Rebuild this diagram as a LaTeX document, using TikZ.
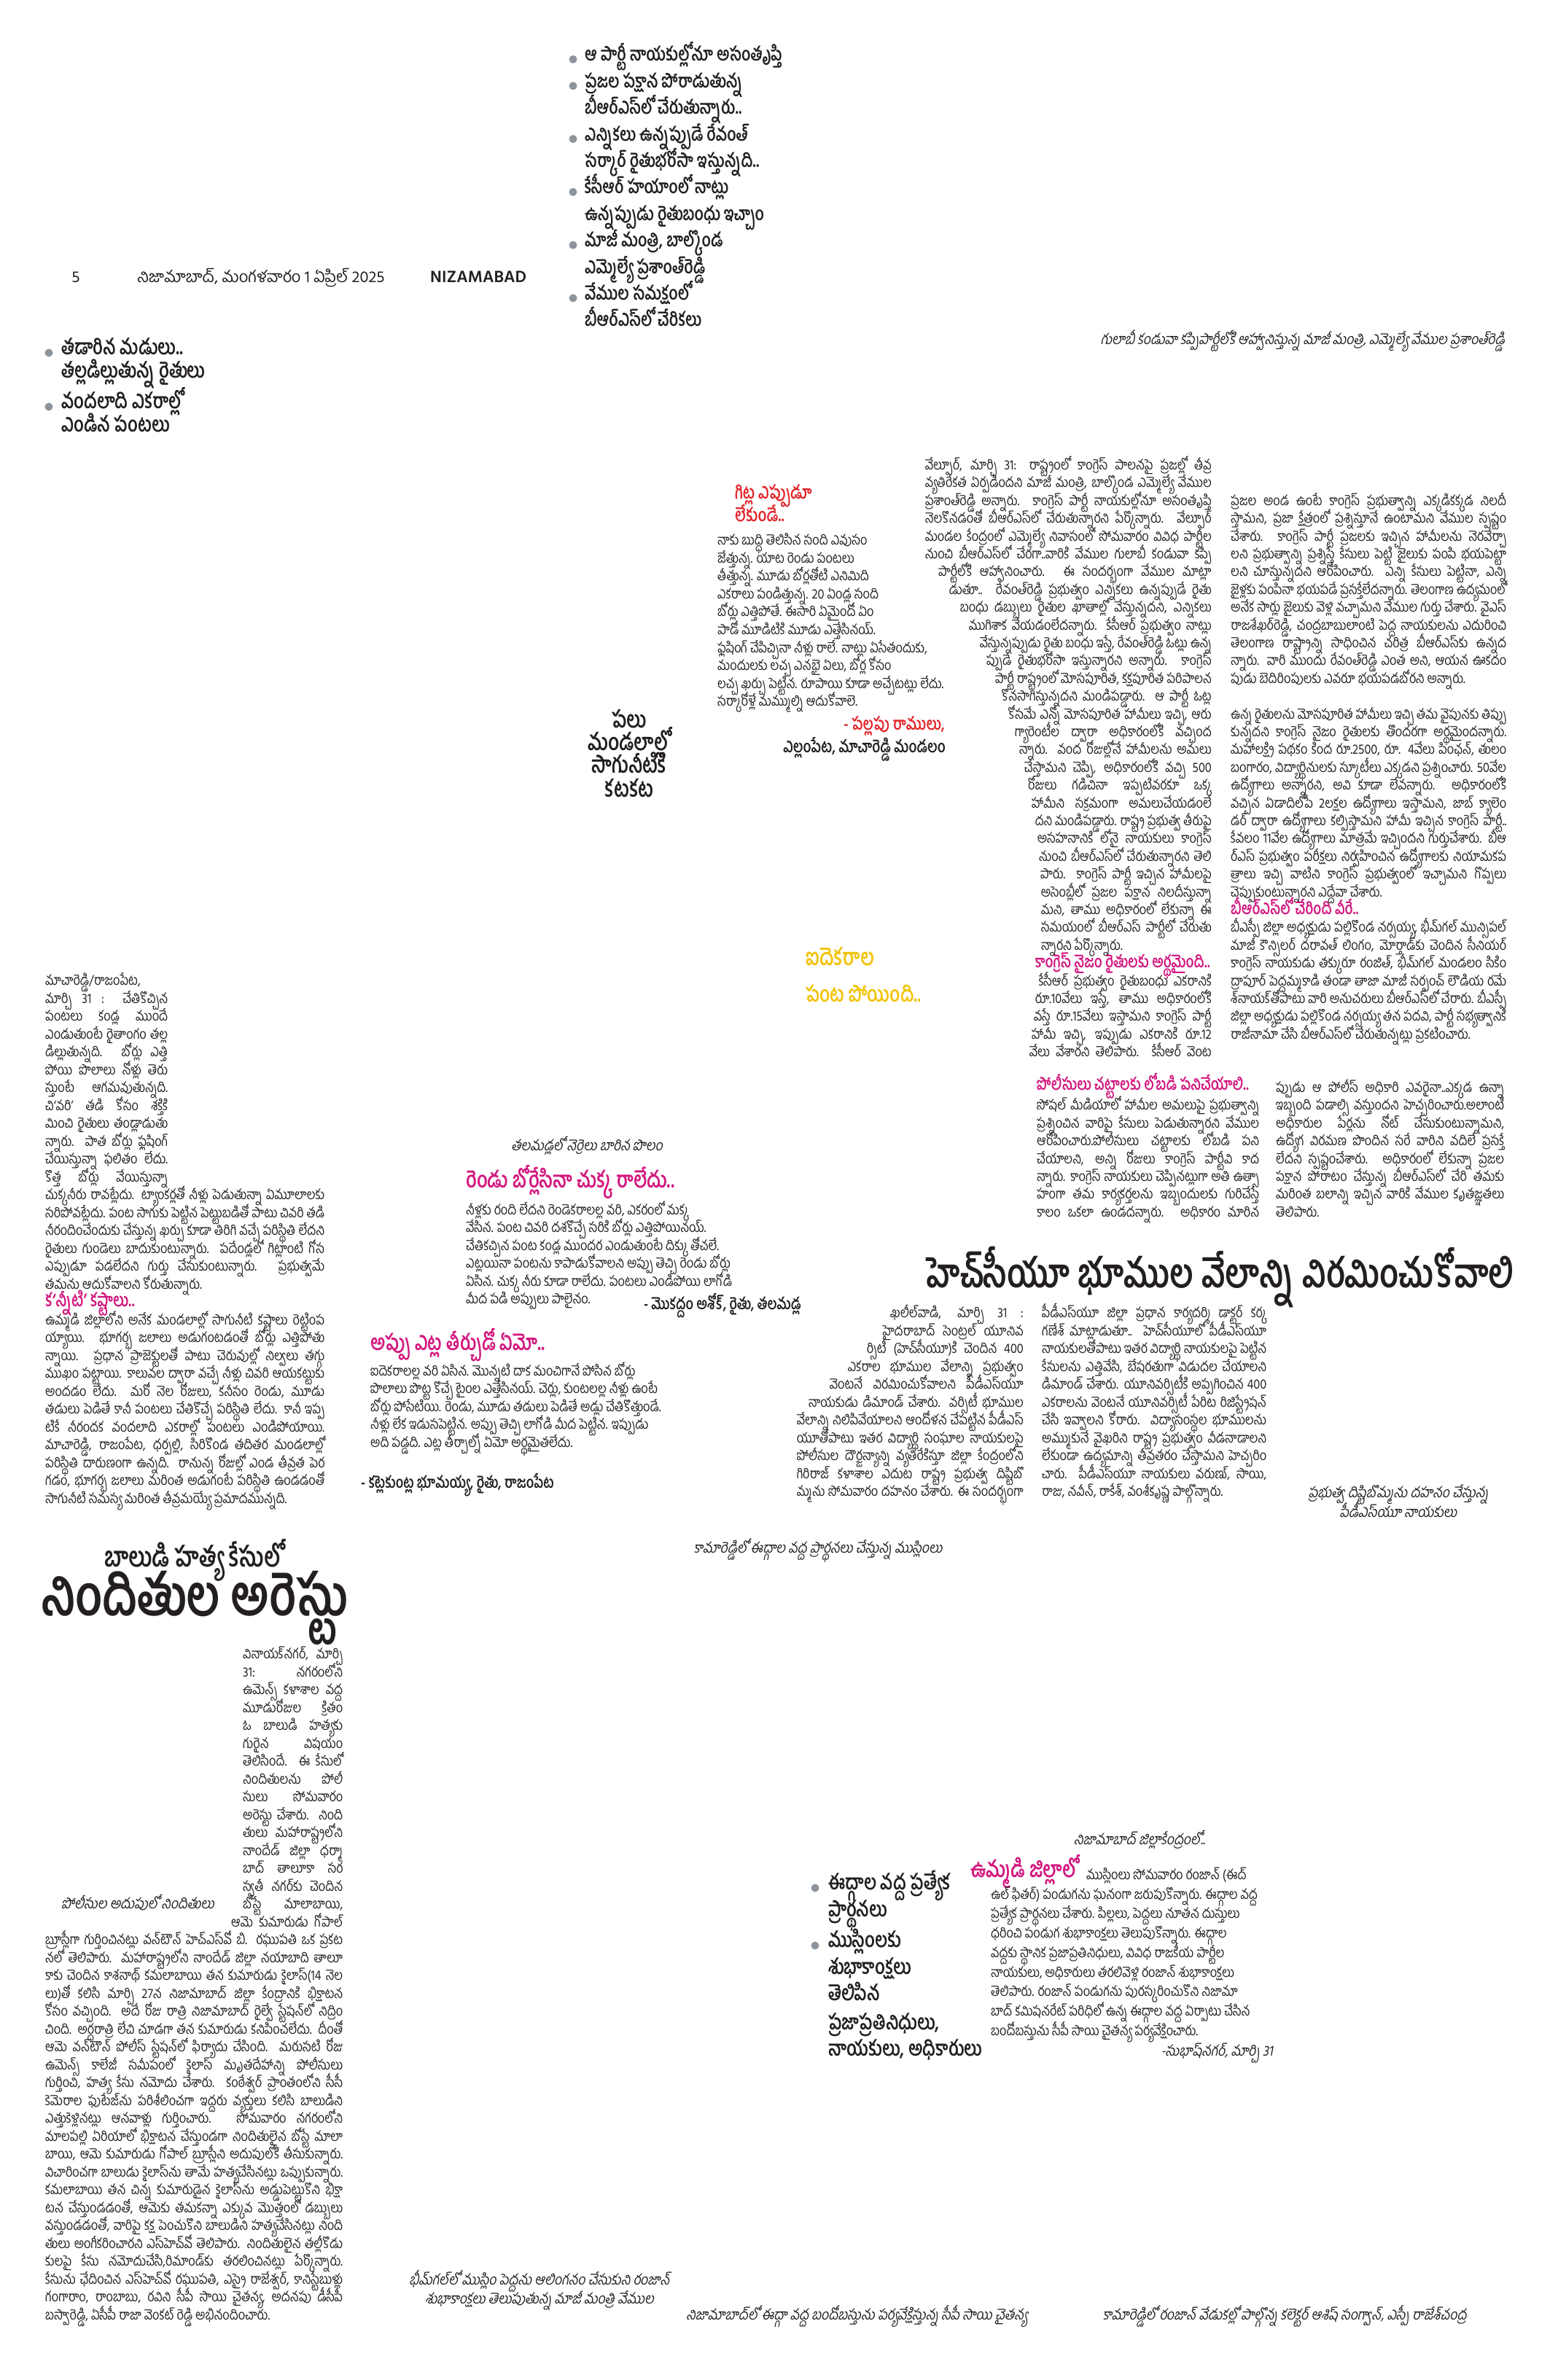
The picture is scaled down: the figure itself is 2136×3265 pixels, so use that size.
\documentclass[tikz,border=0pt]{standalone}
\usepackage{fontspec}
\usepackage{graphicx}
\setmainfont{Hind Guntur}[Script=Telugu]
\newfontfamily\bodyfont{Hind Guntur}[Script=Telugu,FakeStretch=0.86]
\newfontfamily\hdfont{Hind Guntur}[Script=Telugu,FakeStretch=0.78]
\newfontfamily\capfont{Hind Guntur}[Script=Telugu,FakeSlant=0.2,FakeStretch=0.88]
\definecolor{ink}{HTML}{231F20}
\definecolor{redhd}{HTML}{E3262B}
\definecolor{maghd}{HTML}{D3187F}
\definecolor{yelhd}{HTML}{F2C40F}
\definecolor{dotgray}{HTML}{8C949C}
% justified line of a given width, squeezed when too long
\newsavebox\linebox
\newcommand\jbox[2]{\sbox\linebox{#2}%
  \ifdim\wd\linebox>#1\relax\resizebox{#1}{\height}{\usebox\linebox}%
  \else\makebox[#1][s]{#2}\fi}

\begin{document}
\begin{tikzpicture}[x=1pt,y=-1pt,
  txt/.style={inner sep=0pt,anchor=mid west,text=ink},
  body/.style={txt,font=\bodyfont\fontsize{19}{24}\selectfont},
  capt/.style={txt,anchor=mid,font=\capfont\fontsize{20}{24}\selectfont},
  bul/.style={txt,font=\hdfont\bfseries\fontsize{26}{30}\selectfont},
  bdot/.style={circle,fill=dotgray,inner sep=0pt,minimum size=11pt},
  hd/.style={txt,font=\hdfont\bfseries\fontsize{23}{28}\selectfont,text=maghd}]
\useasboundingbox (0,0) rectangle (2136,3265);

% top bullets
\foreach \t [count=\i] in {{ఆ పార్టీ నాయకుల్లోనూ అసంతృప్తి},{ప్రజల పక్షాన పోరాడుతున్న},{బీఆర్ఎస్‌లో చేరుతున్నారు..},
  {ఎన్నికలు ఉన్నప్పుడే రేవంత్},{సర్కార్ రైతుభరోసా ఇస్తున్నది..},{కేసీఆర్ హయాంలో నాట్లు},{ఉన్నప్పుడు రైతుబంధు ఇచ్చాం},
  {మాజీ మంత్రి, బాల్కొండ},{ఎమ్మెల్యే ప్రశాంత్‌రెడ్డి},{వేముల సమక్షంలో},{బీఆర్ఎస్‌లో చేరికలు}}
  \node[bul] (top-\i) at (802,45+36.4*\i) {\t};
\foreach \i in {1,2,4,6,8,10}
  \node[bdot] (topdot-\i) at (786,45+36.4*\i) {};

% page header
\node[txt,anchor=mid,font=\fontsize{22}{26}\selectfont] (pageno) at (104,385) {5};
\node[txt,font=\fontsize{22}{26}\selectfont] (date) at (188,385) {నిజామాబాద్, మంగళవారం 1 ఏప్రిల్ 2025};
\node[txt,font=\bfseries\fontsize{23}{28}\selectfont] (edition) at (590,385) {NIZAMABAD};

% left bullets
\node[bdot] (ldot-1) at (67,484) {};
\node[bul,font=\hdfont\bfseries\fontsize{29}{34}\selectfont] (left-1) at (84,484) {తడారిన మడులు..};
\node[bul,font=\hdfont\bfseries\fontsize{29}{34}\selectfont] (left-2) at (84,516) {తల్లడిల్లుతున్న రైతులు};
\node[bdot] (ldot-3) at (67,558) {};
\node[bul,font=\hdfont\bfseries\fontsize{29}{34}\selectfont] (left-3) at (84,558) {వందలాది ఎకరాల్లో};
\node[bul,font=\hdfont\bfseries\fontsize{29}{34}\selectfont] (left-4) at (84,590) {ఎండిన పంటలు};

\node[capt,anchor=mid east] (capvemula) at (2064,470) {గులాబీ కండువా కప్పిపార్టీలోకి ఆహ్వానిస్తున్న మాజీ మంత్రి, ఎమ్మెల్యే వేముల ప్రశాంత్‌రెడ్డి};

% farmer quote 1
\node[hd,text=redhd,font=\hdfont\bfseries\fontsize{25}{30}\selectfont] (gitla-1) at (1008,682) {గిట్ల ఎప్పుడూ};
\node[hd,text=redhd,font=\hdfont\bfseries\fontsize{25}{30}\selectfont] (gitla-2) at (1008,713) {లేకుండే..};
\foreach \t [count=\i] in {{నాకు బుద్ధి తెలిసిన సంది ఎవుసం},{జేత్తున్న. యాట రెండు పంటలు},{తీత్తున్న. మూడు బోర్లతోటి ఎనిమిది},
  {ఎకరాలు పండిత్తున్న. 20 ఏండ్ల సంది},{బోర్లు ఎత్తిపోతే. ఈసారి ఏమైందో ఏం},{పాడో మూడిటికి మూడు ఎత్తేసినయ్.},
  {ఫ్లషింగ్ చేపిచ్చినా నీళ్లు రాలే. నాట్లు ఏసేతందుకు,},{మందులకు లచ్చ ఎనభై ఏలు, బోర్ల కోసం},
  {లచ్చ ఖర్చు పెట్టిన. రూపాయి కూడా అచ్చేటట్లు లేదు.},{సర్కారోళ్లే మమ్ముల్ని ఆదుకోవాలె.}}
  \node[body] (gq-\i) at (984,720.4+24.6*\i) {\t};
\node[hd,text=redhd,anchor=mid east,font=\hdfont\bfseries\fontsize{24}{28}\selectfont] (gname) at (1296,999) {- పల్లపు రాములు,};
\node[txt,anchor=mid east,font=\hdfont\bfseries\fontsize{23}{26}\selectfont] (gplace) at (1297,1030) {ఎల్లంపేట, మాచారెడ్డి మండలం};

\foreach \t/\yy [count=\i] in {పలు/996,మండలాల్లో/1027,సాగునీటికి/1058,కటకట/1091}
  \node[txt,anchor=mid,font=\hdfont\bfseries\fontsize{32}{36}\selectfont] (palu-\i) at (863,\yy) {\t};

% column A (Velpur story)
\foreach \w/\t [count=\i] in {393/{వేల్పూర్, మార్చి 31: రాష్ట్రంలో కాంగ్రెస్ పాలనపై ప్రజల్లో తీవ్ర},
  393/{వ్యతిరేకత ఏర్పడిందని మాజీ మంత్రి, బాల్కొండ ఎమ్మెల్యే వేముల},
  393/{ప్రశాంత్‌రెడ్డి అన్నారు. కాంగ్రెస్ పార్టీ నాయకుల్లోనూ అసంతృప్తి},
  393/{నెలకొనడంతో బీఆర్ఎస్‌లో చేరుతున్నారని పేర్కొన్నారు. వేల్పూర్},
  393/{మండల కేంద్రంలో ఎమ్మెల్యే నివాసంలో సోమవారం వివిధ పార్టీల},
  393/{నుంచి బీఆర్ఎస్‌లో చేరగా..వారికి వేముల గులాబీ కండువా కప్పి},
  375/{పార్టీలోకి ఆహ్వానించారు. ఈ సందర్భంగా వేముల మాట్లా},
  360/{డుతూ.. రేవంత్‌రెడ్డి ప్రభుత్వం ఎన్నికలు ఉన్నప్పుడే రైతు},
  345/{బంధు డబ్బులు రైతుల ఖాతాల్లో వేస్తున్నదని, ఎన్నికలు},
  333/{ముగిశాక వేయడంలేదన్నారు. కేసీఆర్ ప్రభుత్వం నాట్లు},
  318/{వేస్తున్నప్పుడు రైతు బంధు ఇస్తే, రేవంత్‌రెడ్డి ఓట్లు ఉన్న},
  309/{ప్పుడే రైతుభరోసా ఇస్తున్నారని అన్నారు. కాంగ్రెస్},
  297/{పార్టీ రాష్ట్రంలో మోసపూరిత, కక్షపూరిత పరిపాలన},
  288/{కొనసాగిస్తున్నదని మండిపడ్డారు. ఆ పార్టీ ఓట్ల},
  279/{కోసమే ఎన్నో మోసపూరిత హామీలు ఇచ్చి, ఆరు},
  270/{గ్యారెంటీల ద్వారా అధికారంలోకి వచ్చింద},
  264/{న్నారు. వంద రోజుల్లోనే హామీలను అమలు},
  257/{చేస్తామని చెప్పి, అధికారంలోకి వచ్చి 500},
  252/{రోజులు గడిచినా ఇప్పటివరకూ ఒక్క},
  247/{హామీని సక్రమంగా అమలుచేయడంలే},
  242/{దని మండిపడ్డారు. రాష్ట్ర ప్రభుత్వ తీరుపై},
  239/{అసహనానికి లోనై నాయకులు కాంగ్రెస్},
  237/{నుంచి బీఆర్ఎస్‌లో చేరుతున్నారని తెలి},
  235/{పారు. కాంగ్రెస్ పార్టీ ఇచ్చిన హామీలపై},
  234/{అసెంబ్లీలో ప్రజల పక్షాన నిలదీస్తున్నా},
  234/{మని, తాము అధికారంలో లేకున్నా ఈ},
  234/{సమయంలో బీఆర్ఎస్ పార్టీలో చేరుతు},
  234/{న్నారని పేర్కొన్నారు.\hfill}}
  \node[body,anchor=mid east] (colA-\i) at (1662,617.6+24.4*\i) {\jbox{\w pt}{\t}};
\node[hd,anchor=mid east] (naijam) at (1660,1325) {కాంగ్రెస్ నైజం రైతులకు అర్థమైంది..};
\foreach \w/\t [count=\i from 30] in {237/{కేసీఆర్ ప్రభుత్వం రైతుబంధు ఎకరానికి},242/{రూ.10వేలు ఇస్తే, తాము అధికారంలోకి},
  244/{వస్తే రూ.15వేలు ఇస్తామని కాంగ్రెస్ పార్టీ},247/{హామీ ఇచ్చి, ఇప్పుడు ఎకరానికి రూ.12},250/{వేలు వేశారని తెలిపారు. కేసీఆర్ వెంట}}
  \node[body,anchor=mid east] (colA-\i) at (1662,617.6+24.4*\i) {\jbox{\w pt}{\t}};

% column B
\foreach \t [count=\i from 3] in {{ప్రజల అండ ఉంటే కాంగ్రెస్ ప్రభుత్వాన్ని ఎక్కడికక్కడ నిలదీ},
  {స్తామని, ప్రజా క్షేత్రంలో ప్రశ్నిస్తూనే ఉంటామని వేముల స్పష్టం},
  {చేశారు. కాంగ్రెస్ పార్టీ ప్రజలకు ఇచ్చిన హామీలను నెరవేర్చా},
  {లని ప్రభుత్వాన్ని ప్రశ్నిస్తే కేసులు పెట్టి జైలుకు పంపి భయపెట్టా},
  {లని చూస్తున్నదని ఆరోపించారు. ఎన్ని కేసులు పెట్టినా, ఎన్ని},
  {జైళ్లకు పంపినా భయపడే ప్రసక్తేలేదన్నారు. తెలంగాణ ఉద్యమంలో},
  {అనేక సార్లు జైలుకు వెళ్లి వచ్చామని వేముల గుర్తు చేశారు. వైఎస్},
  {రాజశేఖర్‌రెడ్డి, చంద్రబాబులాంటి పెద్ద నాయకులను ఎదురించి},
  {తెలంగాణ రాష్ట్రాన్ని సాధించిన చరిత్ర బీఆర్ఎస్‌కు ఉన్నద},
  {న్నారు. వారి ముందు రేవంత్‌రెడ్డి ఎంత అని, ఆయన ఊకదం},
  {పుడు బెదిరింపులకు ఎవరూ భయపడబోరని అన్నారు.\hfill}}
  \node[body] (colB-\i) at (1688,617.6+24.4*\i) {\jbox{378pt}{\t}};
\foreach \t [count=\i from 15] in {{ఉన్న రైతులను మోసపూరిత హామీలు ఇచ్చి తమ వైపునకు తిప్పు},
  {కున్నదని కాంగ్రెస్ నైజం రైతులకు తొందరగా అర్థమైందన్నారు.},
  {మహాలక్ష్మి పథకం కింద రూ.2500, రూ. 4వేలు పింఛన్, తులం},
  {బంగారం, విద్యార్థినులకు స్కూటీలు ఎక్కడని ప్రశ్నించారు. 50వేల},
  {ఉద్యోగాలు అన్నారని, అవి కూడా లేవన్నారు. అధికారంలోకి},
  {వచ్చిన ఏడాదిలోపే 2లక్షల ఉద్యోగాలు ఇస్తామని, జాబ్ క్యాలెం},
  {డర్ ద్వారా ఉద్యోగాలు కల్పిస్తామని హామీ ఇచ్చిన కాంగ్రెస్ పార్టీ..},
  {కేవలం 11వేల ఉద్యోగాలు మాత్రమే ఇచ్చిందని గుర్తుచేశారు. బీఆ},
  {ర్ఎస్ ప్రభుత్వం పరీక్షలు నిర్వహించిన ఉద్యోగాలకు నియామకప},
  {త్రాలు ఇచ్చి వాటిని కాంగ్రెస్ ప్రభుత్వంలో ఇచ్చామని గొప్పలు},
  {చెప్పుకుంటున్నారని ఎద్దేవా చేశారు.\hfill}}
  \node[body] (colB-\i) at (1688,617.6+24.4*\i) {\jbox{378pt}{\t}};
\node[hd] (veere) at (1688,1252) {బీఆర్ఎస్‌లో చేరింది వీరే..};
\foreach \t [count=\i from 27] in {{బీఎస్పీ జిల్లా అధ్యక్షుడు పల్లికొండ నర్సయ్య, భీమ్‌గల్ మున్సిపల్},
  {మాజీ కౌన్సిలర్ దరావత్ లింగం, మోర్తాడ్‌కు చెందిన సీనియర్},
  {కాంగ్రెస్ నాయకుడు తక్కురూ రంజిత్, భీమ్‌గల్ మండలం సికిం},
  {ద్రాపూర్ పెద్దమ్మకాడి తండా తాజా మాజీ సర్పంచ్ లౌడియ రమే},
  {శ్‌నాయక్‌తోపాటు వారి అనుచరులు బీఆర్ఎస్‌లో చేరారు. బీఎస్పీ},
  {జిల్లా అధ్యక్షుడు పల్లికొండ నర్సయ్య తన పదవి, పార్టీ సభ్యత్వానికి},
  {రాజీనామా చేసి బీఆర్ఎస్‌లో చేరుతున్నట్లు ప్రకటించారు.\hfill}}
  \node[body] (colB-\i) at (1688,617.6+24.4*\i) {\jbox{378pt}{\t}};

% police paragraph and its run-on column
\node[hd] (police) at (1422,1493) {పోలీసులు చట్టాలకు లోబడి పనిచేయాలి..};
\foreach \t [count=\i from 37] in {{సోషల్ మీడియాలో హామీల అమలుపై ప్రభుత్వాన్ని},
  {ప్రశ్నించిన వారిపై కేసులు పెడుతున్నారని వేముల},{ఆరోపించారు.పోలీసులు చట్టాలకు లోబడి పని},
  {చేయాలని, అన్ని రోజులు కాంగ్రెస్ పార్టీవి కాద},{న్నారు. కాంగ్రెస్ నాయకులు చెప్పినట్లుగా అతి ఉత్సా},
  {హంగా తమ కార్యకర్తలను ఇబ్బందులకు గురిచేస్తే},{కాలం ఒకలా ఉండదన్నారు. అధికారం మారిన}}
  \node[body] (pol-\i) at (1422,617.6+24.4*\i) {\jbox{305pt}{\t}};
\foreach \t [count=\i from 36] in {{ప్పుడు ఆ పోలీస్ అధికారి ఎవరైనా..ఎక్కడ ఉన్నా},
  {ఇబ్బంది పడాల్సి వస్తుందని హెచ్చరించారు.అలాంటి},{అధికారుల పేర్లను నోట్ చేసుకుంటున్నామని,},
  {ఉద్యోగ విరమణ పొందిన సరే వారిని వదిలే ప్రసక్తే},{లేదని స్పష్టంచేశారు. అధికారంలో లేకున్నా ప్రజల},
  {పక్షాన పోరాటం చేస్తున్న బీఆర్ఎస్‌లో చేరి తమకు},{మరింత బలాన్ని ఇచ్చిన వారికి వేముల కృతజ్ఞతలు},
  {తెలిపారు.\hfill}}
  \node[body] (colC-\i) at (1750,617.6+24.4*\i) {\jbox{313pt}{\t}};

\node[txt,text=yelhd,font=\hdfont\bfseries\fontsize{32}{36}\selectfont] (yel-1) at (1105,1322) {ఐదెకరాల};
\node[txt,text=yelhd,font=\hdfont\bfseries\fontsize{30}{36}\selectfont] (yel-2) at (1105,1372) {పంట పోయింది..};

% left column (Machareddy story)
\foreach \t [count=\i] in {{మాచారెడ్డి/రాజంపేట,\hfill},{మార్చి 31 : చేతికొచ్చిన},{పంటలు కండ్ల ముందే},
  {ఎండుతుంటే రైతాంగం తల్ల},{డిల్లుతున్నది. బోర్లు ఎత్తి},{పోయి పొలాలు నోళ్లు తెరు},{స్తుంటే ఆగమవుతున్నది.},
  {చి‘వరి’ తడి కోసం శక్తికి},{మించి రైతులు తండ్లాడుతు},{న్నారు. పాత బోర్లు ఫ్లషింగ్},
  {చేయిస్తున్నా ఫలితం లేదు.},{కొత్త బోర్లు వేయిస్తున్నా}}
  \node[body] (lc-\i) at (62,1324.5+24.5*\i) {\jbox{168pt}{\t}};
\foreach \t [count=\i from 13] in {{చుక్కనీరు రావట్లేదు. ట్యాంకర్లతో నీళ్లు పెడుతున్నా ఏమూలాలకు},
  {సరిపోవట్లేదు. పంట సాగుకు పెట్టిన పెట్టుబడితో పాటు చివరి తడి},
  {నీరందించేందుకు చేస్తున్న ఖర్చు కూడా తిరిగి వచ్చే పరిస్థితి లేదని},
  {రైతులు గుండెలు బాదుకుంటున్నారు. పదేండ్లలో గిట్లాంటి గోస},
  {ఎప్పుడూ పడలేదని గుర్తు చేసుకుంటున్నారు. ప్రభుత్వమే},
  {తమను ఆదుకోవాలని కోరుతున్నారు.\hfill}}
  \node[body] (lc-\i) at (62,1324.5+24.5*\i) {\jbox{383pt}{\t}};
\node[hd,font=\hdfont\bfseries\fontsize{25}{30}\selectfont] (kanneeti) at (62,1790) {క‘న్నీటి’ కష్టాలు..};
\foreach \t [count=\i from 20] in {{ఉమ్మడి జిల్లాలోని అనేక మండలాల్లో సాగునీటి కష్టాలు రెట్టింప},
  {య్యాయి. భూగర్భ జలాలు అడుగంటడంతో బోర్లు ఎత్తిపోతు},
  {న్నాయి. ప్రధాన ప్రాజెక్టులతో పాటు చెరువుల్లో నిల్వలు తగ్గు},
  {ముఖం పట్టాయి. కాలువల ద్వారా వచ్చే నీళ్లు చివరి ఆయకట్టుకు},
  {అందడం లేదు. మరో నెల రోజులు, కనీసం రెండు, మూడు},
  {తడులు పెడితే కానీ పంటలు చేతికొచ్చే పరిస్థితి లేదు. కానీ ఇప్ప},
  {టికే నీరందక వందలాది ఎకరాల్లో పంటలు ఎండిపోయాయి.},
  {మాచారెడ్డి, రాజంపేట, ధర్పల్లి, సిరికొండ తదితర మండలాల్లో},
  {పరిస్థితి దారుణంగా ఉన్నది. రానున్న రోజుల్లో ఎండ తీవ్రత పెర},
  {గడం, భూగర్భ జలాలు మరింత అడుగంటే పరిస్థితి ఉండడంతో},
  {సాగునీటి సమస్య మరింత తీవ్రమయ్యే ప్రమాదమున్నది.\hfill}}
  \node[body] (lc-\i) at (62,1324.5+24.5*\i) {\jbox{383pt}{\t}};

% farmer quotes 2 and 3
\node[capt] (captala) at (805,1576) {తలమడ్లలో నెర్రెలు బారిన పొలం};
\node[hd,font=\hdfont\bfseries\fontsize{31}{36}\selectfont] (rendu) at (639,1627) {రెండు బోర్లేసినా చుక్క రాలేదు..};
\foreach \t [count=\i] in {{నీళ్లకు రంది లేదని రెండెకరాలల్ల వరి, ఎకరంలో మక్క},
  {వేసిన. పంట చివరి దశకొచ్చే సరికి బోర్లు ఎత్తిపోయినయ్.},{చేతికచ్చిన పంట కండ్ల ముందర ఎండుతుంటే దిక్కు తోచలే.},
  {ఎట్లయినా పంటను కాపాడుకోవాలని అప్పు తెచ్చి రెండు బోర్లు},{ఏసిన. చుక్క నీరు కూడా రాలేదు. పంటలు ఎండిపోయి లాగోడి},
  {మీద పడి అప్పులు పాలైనం.}}
  \node[body] (rq-\i) at (639,1639.6+24.4*\i) {\t};
\node[txt,anchor=mid east,font=\hdfont\bfseries\fontsize{22}{26}\selectfont] (rname) at (1099,1794) {- మొకద్దం అశోక్, రైతు, తలమడ్ల};
\node[hd,font=\hdfont\bfseries\fontsize{30}{36}\selectfont] (appu) at (508,1850) {అప్పు ఎట్ల తీర్చుడో ఏమో..};
\foreach \t [count=\i] in {{ఐదెకరాలల్ల వరి ఏసిన. మొన్నటి దాక మంచిగానే పోసిన బోర్లు},
  {పొలాలు పొట్ట కొచ్చే టైంల ఎత్తేసినయ్. చెర్లు, కుంటలల్ల నీళ్లు ఉంటే},{బోర్లు పోసేటియి. రెండు, మూడు తడులు పెడితే అడ్లు చేతికొత్తుండే.},
  {నీళ్లు లేక ఇడుసపెట్టిన. అప్పు తెచ్చి లాగోడి మీద పెట్టిన. ఇప్పుడు},{అది పడ్డది. ఎట్ల తీర్చాల్నో ఏమో అర్థమైతలేదు.}}
  \node[body] (aq-\i) at (508,1860.6+24.4*\i) {\t};
\node[txt,font=\hdfont\bfseries\fontsize{22}{26}\selectfont] (aname) at (495,2039) {- కట్లెకుంట్ల భూమయ్య, రైతు, రాజంపేట};

% HCU story
\node[txt,anchor=mid east,text height=36pt,text depth=6pt,font=\hdfont\bfseries\fontsize{55}{60}\selectfont] (hcu) at (2077,1764) {హెచ్‌సీయూ భూముల వేలాన్ని విరమించుకోవాలి};
\foreach \w/\t [count=\i] in {183/{ఖలీల్‌వాడి, మార్చి 31 :},193/{హైదరాబాద్ సెంట్రల్ యూనివ},215/{ర్సిటీ (హెచ్‌సీయూ)కి చెందిన 400},
  241/{ఎకరాల భూముల వేలాన్ని ప్రభుత్వం},266/{వెంటనే విరమించుకోవాలని పీడీఎస్‌యూ},295/{నాయకుడు డిమాండ్ చేశారు. వర్సిటీ భూముల},
  311/{వేలాన్ని నిలిపివేయాలని ఆందోళన చేపట్టిన పీడీఎస్},311/{యూతోపాటు ఇతర విద్యార్థి సంఘాల నాయకులపై},
  311/{పోలీసుల దౌర్జన్యాన్ని వ్యతిరేకిస్తూ జిల్లా కేంద్రంలోని},311/{గిరిరాజ్ కళాశాల ఎదుట రాష్ట్ర ప్రభుత్వ దిష్టిబొ},
  311/{మ్మను సోమవారం దహనం చేశారు. ఈ సందర్భంగా}}
  \node[body,anchor=mid east] (hcuA-\i) at (1404,1780.5+24.5*\i) {\jbox{\w pt}{\t}};
\foreach \t [count=\i] in {{పీడీఎస్‌యూ జిల్లా ప్రధాన కార్యదర్శి డాక్టర్ కర్క},{గణేశ్ మాట్లాడుతూ.. హెచ్‌సీయూలో పీడీఎస్‌యూ},
  {నాయకులతోపాటు ఇతర విద్యార్థి నాయకులపై పెట్టిన},{కేసులను ఎత్తివేసి, బేషరతుగా విడుదల చేయాలని},
  {డిమాండ్ చేశారు. యూనివర్సిటీకి అప్పగించిన 400},{ఎకరాలను వెంటనే యూనివర్సిటీ పేరిట రిజిస్ట్రేషన్},
  {చేసి ఇవ్వాలని కోరారు. విద్యాసంస్థల భూములను},{అమ్ముకునే వైఖరిని రాష్ట్ర ప్రభుత్వం వీడనాడాలని},
  {లేకుండా ఉద్యమాన్ని తీవ్రతరం చేస్తామని హెచ్చరిం},{చారు. పీడీఎస్‌యూ నాయకులు వరుణ్, సాయి,},
  {రాజు, నవీన్, రాకేశ్, వంశీకృష్ణ పాల్గొన్నారు.\hfill}}
  \node[body] (hcuB-\i) at (1429,1780.5+24.5*\i) {\jbox{308pt}{\t}};
\node[capt] (caphcu-1) at (1918,2052) {ప్రభుత్వ దిష్టిబొమ్మను దహనం చేస్తున్న};
\node[capt] (caphcu-2) at (1918,2079) {పీడీఎస్‌యూ నాయకులు};

\node[capt] (capeid) at (1122,2128) {కామారెడ్డిలో ఈద్గాల వద్ద ప్రార్థనలు చేస్తున్న ముస్లింలు};

% murder case
\node[txt,anchor=mid,font=\hdfont\bfseries\fontsize{38}{42}\selectfont] (baludi) at (266,2147) {బాలుడి హత్య కేసులో};
\node[txt,anchor=mid,font=\hdfont\bfseries\fontsize{78}{84}\selectfont] (arrest) at (267,2214) {నిందితుల అరెస్టు};
\foreach \t [count=\i] in {{వినాయక్‌నగర్, మార్చి},{31: నగరంలోని},{ఉమెన్స్ కళాశాల వద్ద},{మూడురోజుల క్రితం},
  {ఓ బాలుడి హత్యకు},{గురైన విషయం},{తెలిసిందే. ఈ కేసులో},{నిందితులను పోలీ},{సులు సోమవారం},
  {అరెస్టు చేశారు. నింది},{తులు మహారాష్ట్రలోని},{నాందేడ్ జిల్లా ధర్మా},{బాద్ తాలూకా సర},
  {స్వతీ నగర్‌కు చెందిన},{బోస్టే మాలాబాయి,}}
  \node[body] (bn-\i) at (333,2248.5+24.5*\i) {\jbox{137pt}{\t}};
\node[body] (bn-16) at (317,2640.5) {\jbox{153pt}{ఆమె కుమారుడు గోపాల్}};
\node[capt] (capcops) at (189,2616) {పోలీసుల అదుపులో నిందితులు};
\foreach \t [count=\i from 17] in {{బ్రూస్లీగా గుర్తించినట్లు వన్‌టౌన్ హెచ్ఎస్‌వో బి. రఘుపతి ఒక ప్రకట},
  {నలో తెలిపారు. మహారాష్ట్రలోని నాందేడ్ జిల్లా నయాబాది తాలూ},
  {కాకు చెందిన కాశనాథ్ కమలాబాయి తన కుమారుడు కైలాస్(14 నెల},
  {లు)తో కలిసి మార్చి 27న నిజామాబాద్ జిల్లా కేంద్రానికి భిక్షాటన},
  {కోసం వచ్చింది. అదే రోజు రాత్రి నిజామాబాద్ రైల్వే స్టేషన్‌లో నిద్రిం},
  {చింది. అర్ధరాత్రి లేచి చూడగా తన కుమారుడు కనిపించలేదు. దీంతో},
  {ఆమె వన్‌టౌన్ పోలీస్ స్టేషన్‌లో ఫిర్యాదు చేసింది. మరుసటి రోజు},
  {ఉమెన్స్ కాలేజీ సమీపంలో కైలాస్ మృతదేహాన్ని పోలీసులు},
  {గుర్తించి, హత్య కేసు నమోదు చేశారు. కంఠేశ్వర్ ప్రాంతంలోని సీసీ},
  {కెమెరాల ఫుటేజ్‌ను పరిశీలించగా ఇద్దరు వ్యక్తులు కలిసి బాలుడిని},
  {ఎత్తుకెళ్లినట్లు ఆనవాళ్లు గుర్తించారు. సోమవారం నగరంలోని},
  {మాలపల్లి ఏరియాలో భిక్షాటన చేస్తుండగా నిందితులైన బోస్టే మాలా},
  {బాయి, ఆమె కుమారుడు గోపాల్ బ్రూస్లీని అదుపులోకి తీసుకున్నారు.},
  {విచారించగా బాలుడు కైలాస్‌ను తామే హత్యచేసినట్లు ఒప్పుకున్నారు.},
  {కమలాబాయి తన చిన్న కుమారుడైన కైలాస్‌ను అడ్డుపెట్టుకొని భిక్షా},
  {టన చేస్తుండడంతో, ఆమెకు తమకన్నా ఎక్కువ మొత్తంలో డబ్బులు},
  {వస్తుండడంతో, వారిపై కక్ష పెంచుకొని బాలుడిని హత్యచేసినట్లు నింది},
  {తులు అంగీకరించారని ఎస్‌హెచ్‌వో తెలిపారు. నిందితులైన తల్లీకొడు},
  {కులపై కేసు నమోదుచేసి,రిమాండ్‌కు తరలించినట్లు పేర్కొన్నారు.},
  {కేసును ఛేదించిన ఎస్‌హెచ్‌వో రఘుపతి, ఎస్సై రాజేశ్వర్, కానిస్టేబుళ్లు},
  {గంగారాం, రాంబాబు, రవిని సీపీ సాయి చైతన్య, అదనపు డీసీపీ},
  {బస్వారెడ్డి, ఏసీపీ రాజా వెంకట్ రెడ్డి అభినందించారు.\hfill}}
  \node[body] (bw-\i) at (62,2248.5+24.5*\i) {\jbox{408pt}{\t}};

% Ramzan story
\node[capt] (capnzb) at (1563,2528) {నిజామాబాద్ జిల్లాకేంద్రంలో..};
\foreach \t/\yy [count=\i] in {{ఈద్గాల వద్ద ప్రత్యేక}/2590,ప్రార్థనలు/2627,ముస్లింలకు/2669,శుభాకాంక్షలు/2706,తెలిపిన/2742,
  {ప్రజాప్రతినిధులు,}/2782,{నాయకులు, అధికారులు}/2818}
  \node[bul,font=\hdfont\bfseries\fontsize{29}{34}\selectfont] (eid-\i) at (1136,\yy) {\t};
\node[bdot] (eiddot-1) at (1118,2590) {};
\node[bdot] (eiddot-3) at (1118,2669) {};
\node[hd,font=\hdfont\bfseries\fontsize{31}{36}\selectfont] (ummadi) at (1331,2573) {ఉమ్మడి జిల్లాలో};
\node[body] (rz-1) at (1490,2576) {ముస్లింలు సోమవారం రంజాన్ (ఈద్};
\foreach \t [count=\i from 2] in {{ఉల్ ఫితర్) పండుగను ఘనంగా జరుపుకొన్నారు. ఈద్గాల వద్ద},
  {ప్రత్యేక ప్రార్థనలు చేశారు. పిల్లలు, పెద్దలు నూతన దుస్తులు},{ధరించి పండుగ శుభాకాంక్షలు తెలుపుకొన్నారు. ఈద్గాల},
  {వద్దకు స్థానిక ప్రజాప్రతినిధులు, వివిధ రాజకీయ పార్టీల},{నాయకులు, అధికారులు తరలివెళ్లి రంజాన్ శుభాకాంక్షలు},
  {తెలిపారు. రంజాన్ పండుగను పురస్కరించుకొని నిజామా},{బాద్ కమిషనరేట్ పరిధిలో ఉన్న ఈద్గాల వద్ద ఏర్పాటు చేసిన},
  {బందోబస్తును సీపీ సాయి చైతన్య పర్యవేక్షించారు.}}
  \node[body] (rz-\i) at (1359,2549.3+26.7*\i) {\t};
\node[capt,anchor=mid east] (rzplace) at (1746,2818) {-సుభాష్‌నగర్, మార్చి 31};

% bottom photo captions
\node[capt] (capbhim-1) at (740,3132) {భీమ్‌గల్‌లో ముస్లిం పెద్దను ఆలింగనం చేసుకుని రంజాన్};
\node[capt] (capbhim-2) at (740,3158) {శుభాకాంక్షలు తెలుపుతున్న మాజీ మంత్రి వేముల};
\node[capt] (capcp) at (1175,3180) {నిజామాబాద్‌లో ఈద్గా వద్ద బందోబస్తును పర్యవేక్షిస్తున్న సీపీ సాయి చైతన్య};
\node[capt] (capcol) at (1762,3180) {కామారెడ్డిలో రంజాన్ వేడుకల్లో పాల్గొన్న కలెక్టర్ ఆశిష్ సంగ్వాన్, ఎస్పీ రాజేశ్‌చంద్ర};
\end{tikzpicture}
\end{document}
